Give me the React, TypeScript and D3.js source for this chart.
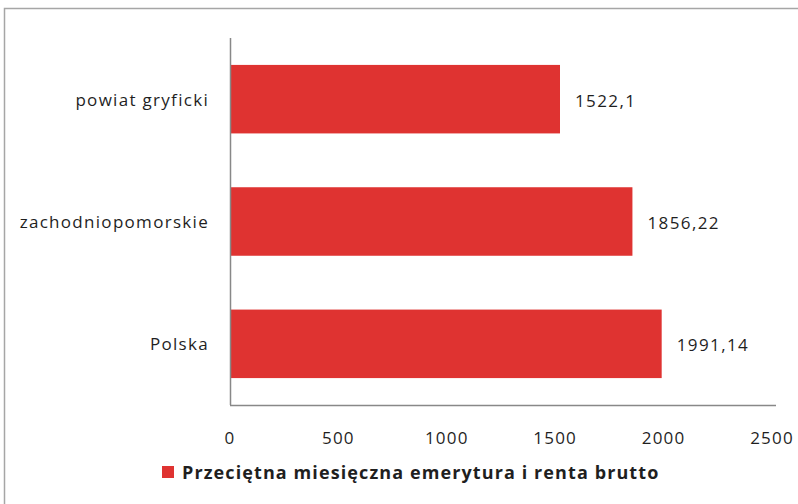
import React from "react";
import * as d3 from "d3";

const categories = ["powiat gryficki", "zachodniopomorskie", "Polska"];
const values = [1522.1, 1856.22, 1991.14];
const valueLabels = ["1522,1", "1856,22", "1991,14"];
const ticks = [0, 500, 1000, 1500, 2000, 2500];
const seriesName = "Przeciętna miesięczna emerytura i renta brutto";

const W = 798;
const H = 504;
const FONT = "'Open Sans', 'DejaVu Sans', sans-serif";
const RED = "#DF3331";
const TEXT = "#1f1f1f";

export default function App() {
  const x = d3.scaleLinear().domain([0, 2500]).range([230, 772]);
  const y = d3
    .scaleBand<string>()
    .domain(categories)
    .range([38, 405])
    .paddingInner(0.44)
    .paddingOuter(0.22);

  return (
    <svg
      width={W}
      height={H}
      style={{ position: "absolute", left: 0, top: 0, background: "#fff" }}
    >
      <rect x={0} y={0} width={W} height={H} fill="#fff" />
      {/* outer frame */}
      <path d={`M4.5,${H} V8.5 H${W}`} fill="none" stroke="#a6a6a6" strokeWidth={1.5} />
      {/* bars */}
      {categories.map((c, i) => (
        <rect
          key={c}
          x={x(0)}
          y={y(c)!}
          width={x(values[i]) - x(0)}
          height={y.bandwidth()}
          fill={RED}
        />
      ))}
      {/* axes */}
      <line x1={x(0) + 0.5} x2={x(0) + 0.5} y1={38} y2={405} stroke="#888" strokeWidth={1.5} />
      <line x1={x(0)} x2={x(2500) + 4} y1={405.5} y2={405.5} stroke="#888" strokeWidth={1.5} />
      {/* category labels */}
      {categories.map((c) => (
        <text
          key={c}
          x={209}
          y={y(c)! + y.bandwidth() / 2}
          textAnchor="end"
          dominantBaseline="central"
          fontFamily={FONT}
          fontSize={17}
          letterSpacing={1.3}
          fill={TEXT}
        >
          {c}
        </text>
      ))}
      {/* value labels */}
      {categories.map((c, i) => (
        <text
          key={c}
          x={x(values[i]) + 15}
          y={y(c)! + y.bandwidth() / 2 + 1}
          dominantBaseline="central"
          fontFamily={FONT}
          fontSize={17}
          letterSpacing={1.4}
          fill={TEXT}
        >
          {valueLabels[i]}
        </text>
      ))}
      {/* tick labels */}
      {ticks.map((t) => (
        <text
          key={t}
          x={x(t)}
          y={437}
          textAnchor="middle"
          dominantBaseline="central"
          fontFamily={FONT}
          fontSize={17}
          letterSpacing={1.2}
          fill={TEXT}
        >
          {t}
        </text>
      ))}
      {/* legend */}
      <rect x={162} y={466} width={12} height={12} fill={RED} />
      <text
        x={182}
        y={472}
        dominantBaseline="central"
        fontFamily={FONT}
        fontSize={18}
        fontWeight={700}
        letterSpacing={1.1}
        fill={TEXT}
      >
        {seriesName}
      </text>
    </svg>
  );
}
